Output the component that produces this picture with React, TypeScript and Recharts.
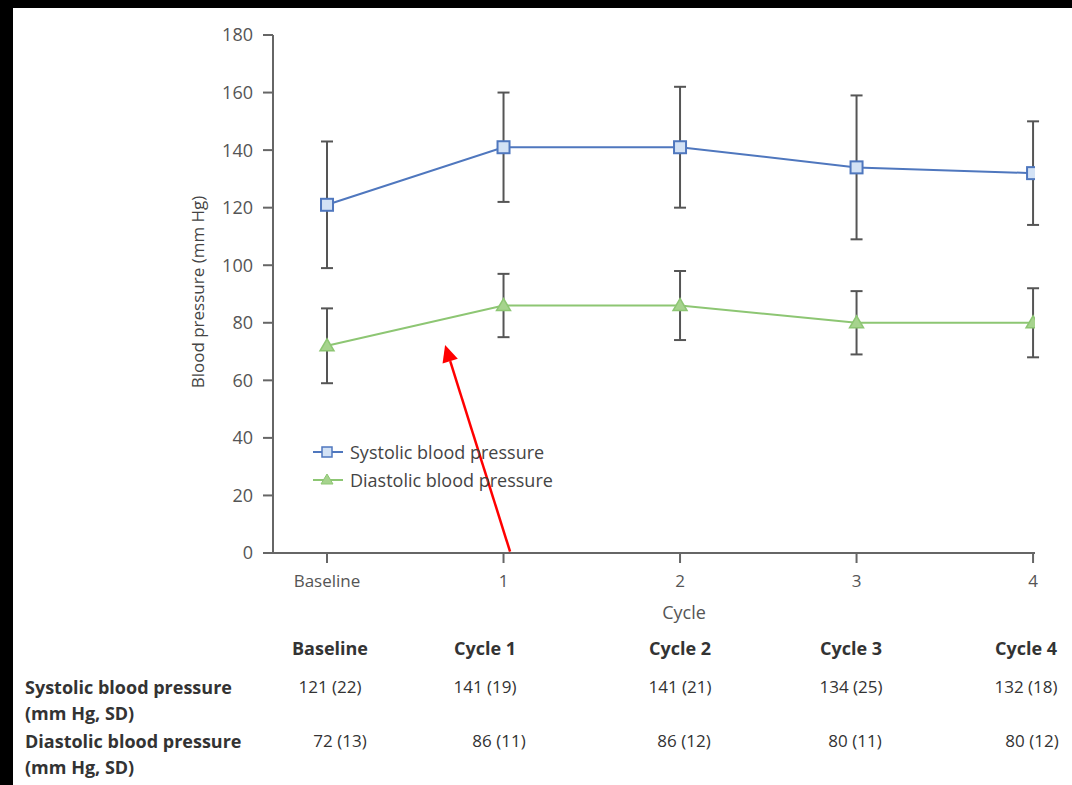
import React from "react";
import { LineChart, Line, XAxis, YAxis, ErrorBar, ReferenceLine } from "recharts";

const categories = ["Baseline", "Cycle 1", "Cycle 2", "Cycle 3", "Cycle 4"];
const tickLabels = ["Baseline", "1", "2", "3", "4"];
const systolic = [121, 141, 141, 134, 132];
const systolicSD = [22, 19, 21, 25, 18];
const diastolic = [72, 86, 86, 80, 80];
const diastolicSD = [13, 11, 12, 11, 12];
const yTicks = [0, 20, 40, 60, 80, 100, 120, 140, 160, 180];

const data = categories.map((c, i) => ({
  x: i,
  name: c,
  sys: systolic[i],
  sysErr: systolicSD[i],
  dia: diastolic[i],
  diaErr: diastolicSD[i],
}));

// annotation arrow, in data units
const arrowFrom = { x: 1.037, y: 0.5 };
const arrowTo = { x: 0.669, y: 72.3 };

const FONT = '"Open Sans", sans-serif';
const BLUE = "#4f77be";
const GREEN = "#8dc673";
const AXIS = "#666";

// column centres for the table under the chart
const sysCols = [330, 485, 680, 851, 1026];
const diaCols = [340, 499, 684, 855, 1032];

const SquareDot = (props: any) => {
  const { cx, cy, index } = props;
  if (cx == null || cy == null) return null;
  return <rect key={"s" + index} x={cx - 6} y={cy - 6} width={12} height={12} fill="#d3e2f5" stroke={BLUE} strokeWidth={2} />;
};

const TriangleDot = (props: any) => {
  const { cx, cy, index } = props;
  if (cx == null || cy == null) return null;
  return (
    <polygon
      key={"t" + index}
      points={`${cx},${cy - 7} ${cx - 7},${cy + 5} ${cx + 7},${cy + 5}`}
      fill="#a6d38d"
      stroke={GREEN}
      strokeWidth={1.5}
    />
  );
};

const Arrow = (props: any) => {
  const { x1, y1, x2, y2 } = props;
  if (x1 == null) return null;
  const dx = x2 - x1;
  const dy = y2 - y1;
  const len = Math.sqrt(dx * dx + dy * dy);
  const ux = dx / len;
  const uy = dy / len;
  const hl = 17;
  const hw = 8;
  const bx = x2 - ux * hl;
  const by = y2 - uy * hl;
  return (
    <g>
      <line x1={x1} y1={y1} x2={bx} y2={by} stroke="#ff0000" strokeWidth={2.5} />
      <polygon
        points={`${x2},${y2} ${bx - uy * hw},${by + ux * hw} ${bx + uy * hw},${by - ux * hw}`}
        fill="#ff0000"
      />
    </g>
  );
};

const LegendBox = () => (
  <div style={{ position: "absolute", left: 312, top: 438, fontFamily: FONT, fontSize: 18, color: "#444" }}>
    <div style={{ display: "flex", alignItems: "center", height: 28 }}>
      <svg width={34} height={20}>
        <line x1={1} y1={10} x2={31} y2={10} stroke={BLUE} strokeWidth={2} />
        <rect x={10} y={5} width={10} height={10} fill="#d3e2f5" stroke={BLUE} strokeWidth={1.5} />
      </svg>
      <span style={{ marginLeft: 4 }}>Systolic blood pressure</span>
    </div>
    <div style={{ display: "flex", alignItems: "center", height: 28 }}>
      <svg width={34} height={20}>
        <line x1={1} y1={10} x2={31} y2={10} stroke={GREEN} strokeWidth={2} />
        <polygon points="15,4 9,14 21,14" fill="#a6d38d" stroke={GREEN} strokeWidth={1} />
      </svg>
      <span style={{ marginLeft: 4 }}>Diastolic blood pressure</span>
    </div>
  </div>
);

const cell = (text: string, x: number, y: number, bold = false) => (
  <div
    key={text + x + y}
    style={{
      position: "absolute",
      left: x - 60,
      width: 120,
      top: y - 13,
      textAlign: "center",
      fontWeight: bold ? 700 : 400,
      fontSize: bold ? 18 : 17,
      whiteSpace: "nowrap",
    }}
  >
    {text}
  </div>
);

const rowLabel = (text: string, y: number) => (
  <div key={text + y} style={{ position: "absolute", left: 25, top: y - 13, whiteSpace: "nowrap", fontWeight: 700 }}>
    {text}
  </div>
);

export default function App() {
  return (
    <div style={{ position: "fixed", left: 0, top: 0, width: 1072, height: 785, background: "#fff", overflow: "hidden" }}>
      <div style={{ position: "absolute", left: 0, top: 0, width: 1072, height: 8, background: "#000" }} />
      <div style={{ position: "absolute", left: 0, top: 0, width: 13, height: 785, background: "#000" }} />
      <div style={{ position: "absolute", left: 0, top: 0 }}>
        <LineChart
          width={1072}
          height={785}
          data={data}
          margin={{ top: 35, right: 37, bottom: 162, left: 193 }}
          style={{ fontFamily: FONT }}
        >
          <XAxis
            dataKey="x"
            type="number"
            domain={[-0.306, 4.011]}
            ticks={[0, 1, 2, 3, 4]}
            tickFormatter={(v: number) => tickLabels[v]}
            allowDataOverflow
            height={70}
            tickSize={10}
            tickMargin={12}
            axisLine={{ stroke: AXIS, strokeWidth: 2 }}
            tickLine={{ stroke: AXIS, strokeWidth: 2 }}
            tick={{ fill: "#555", fontSize: 17, fontFamily: FONT }}
            label={(p: any) => {
              const vb = p.viewBox;
              return (
                <text x={vb.x + vb.width / 2 + 30} y={vb.y + 66} textAnchor="middle" fill="#555" fontSize={18} fontFamily={FONT}>
                  Cycle
                </text>
              );
            }}
          />
          <YAxis
            type="number"
            domain={[0, 180]}
            ticks={yTicks}
            width={80}
            tickSize={10}
            tickMargin={10}
            axisLine={{ stroke: AXIS, strokeWidth: 2 }}
            tickLine={{ stroke: AXIS, strokeWidth: 2 }}
            tick={{ fill: "#555", fontSize: 18, fontFamily: FONT }}
            label={(p: any) => {
              const vb = p.viewBox;
              const cx = vb.x + 4;
              const cy = vb.y + vb.height / 2 - 2;
              return (
                <text
                  x={cx}
                  y={cy}
                  transform={`rotate(-90, ${cx}, ${cy})`}
                  textAnchor="middle"
                  dominantBaseline="central"
                  fill="#444"
                  fontSize={17}
                  fontFamily={FONT}
                >
                  Blood pressure (mm Hg)
                </text>
              );
            }}
          />
          <Line
            dataKey="sys"
            stroke={BLUE}
            strokeWidth={2}
            dot={SquareDot}
            activeDot={false}
            isAnimationActive={false}
          >
            <ErrorBar dataKey="sysErr" direction="y" width={6} stroke="#555" strokeWidth={2} />
          </Line>
          <Line
            dataKey="dia"
            stroke={GREEN}
            strokeWidth={2}
            dot={TriangleDot}
            activeDot={false}
            isAnimationActive={false}
          >
            <ErrorBar dataKey="diaErr" direction="y" width={6} stroke="#555" strokeWidth={2} />
          </Line>
          <ReferenceLine
            segment={[arrowFrom, arrowTo]}
            ifOverflow="visible"
            shape={Arrow}
          />
        </LineChart>
      </div>
      <LegendBox />
      <div style={{ position: "absolute", left: 0, top: 0, width: 1072, height: 785, fontFamily: FONT, fontSize: 18, color: "#333" }}>
        {categories.map((c, i) => cell(c, sysCols[i], 649, true))}
        {rowLabel("Systolic blood pressure", 688)}
        {rowLabel("(mm Hg, SD)", 714)}
        {rowLabel("Diastolic blood pressure", 742)}
        {rowLabel("(mm Hg, SD)", 768)}
        {systolic.map((v, i) => cell(`${v} (${systolicSD[i]})`, sysCols[i], 688))}
        {diastolic.map((v, i) => cell(`${v} (${diastolicSD[i]})`, diaCols[i], 742))}
      </div>
    </div>
  );
}
